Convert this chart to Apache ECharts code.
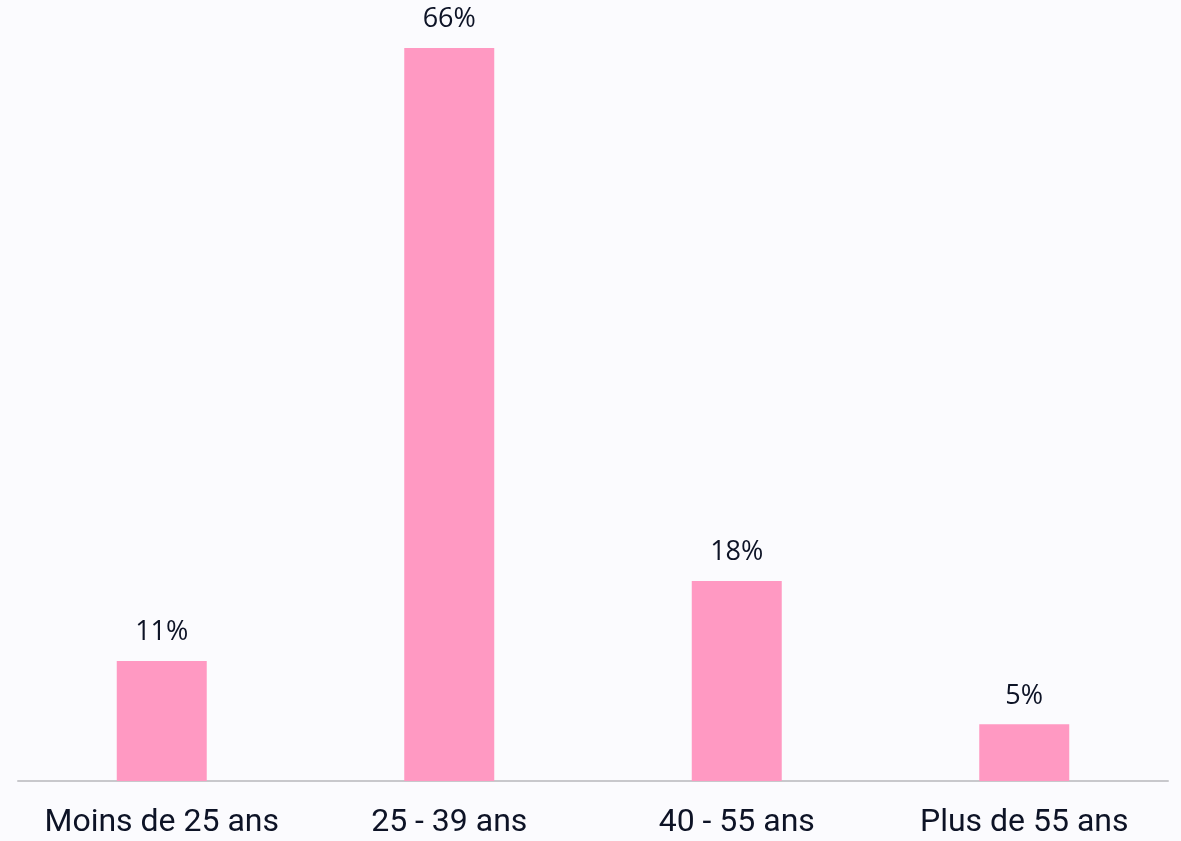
<!DOCTYPE html>
<html><head><meta charset="utf-8">
<script src="https://cdn.jsdelivr.net/npm/echarts@6/dist/echarts.min.js"></script>
<style>html,body{margin:0;padding:0;background:#FBFBFE;}#c{width:1181px;height:841px;}</style>
</head><body><div id="c"></div>
<script>
const categories = ['Moins de 25 ans', '25 - 39 ans', '40 - 55 ans', 'Plus de 55 ans'];
const values = [10.8, 66, 18, 5.1];

const chart = echarts.init(document.getElementById('c'));
chart.setOption({
  backgroundColor: '#FBFBFE',
  animation: false,
  grid: { left: 18, right: 13, top: 48, bottom: 60, containLabel: false },
  xAxis: {
    type: 'category', data: categories,
    axisLine: { show: true, lineStyle: { color: '#C8C8CC', width: 2 } },
    axisTick: { show: false },
    axisLabel: { interval: 0, hideOverlap: false, color: '#0D1326', fontFamily: 'Roboto', fontSize: 32, margin: 26 }
  },
  yAxis: { type: 'value', min: 0, max: 66, show: false, splitLine: { show: false } },
  series: [{
    type: 'bar', data: values, barWidth: '31.3%',
    itemStyle: { color: '#FF99C2' },
    label: {
      show: true, position: 'top', distance: 15,
      color: '#0D1326', fontFamily: 'Open Sans', fontSize: 27,
      formatter: p => Math.round(p.value) + '%'
    }
  }]
});
</script></body></html>
